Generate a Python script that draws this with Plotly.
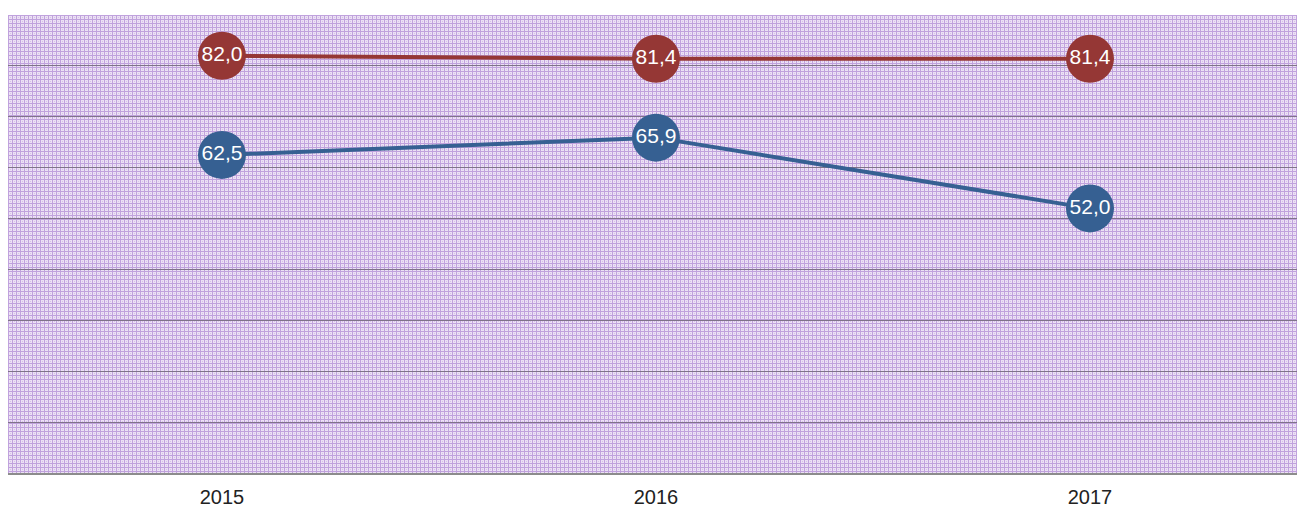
import base64
import plotly.graph_objects as go

years = ["2015", "2016", "2017"]
red_values = [82.0, 81.4, 81.4]
blue_values = [62.5, 65.9, 52.0]

red = "#953735"
blue = "#366092"


def label(v):
    return f"{v:.1f}".replace(".", ",")


# fine lavender check pattern behind the plot, as an svg image
svg = (
    '<svg xmlns="http://www.w3.org/2000/svg" width="1289" height="458" '
    'preserveAspectRatio="none">'
    '<defs><pattern id="p" width="4" height="4" patternUnits="userSpaceOnUse">'
    '<rect width="4" height="4" fill="#ece1f4"/>'
    '<rect x="0" y="0" width="4" height="1" fill="#c0a2dd"/>'
    '<rect x="0" y="0" width="1" height="4" fill="#c0a2dd"/>'
    '<rect x="2" y="2" width="1" height="1" fill="#d6c1ea"/>'
    '</pattern></defs>'
    '<rect width="1289" height="458" fill="url(#p)"/></svg>'
)
bg_src = "data:image/svg+xml;base64," + base64.b64encode(svg.encode()).decode()

fig = go.Figure()

for vals, col in [(blue_values, blue), (red_values, red)]:
    fig.add_trace(go.Scatter(
        x=years,
        y=vals,
        mode="lines+markers+text",
        line=dict(color=col, width=4),
        marker=dict(size=48, color=col, line=dict(width=0)),
        text=[label(v) for v in vals],
        textposition="middle center",
        textfont=dict(family="Liberation Sans, Arial", size=21, color="white"),
        cliponaxis=False,
        showlegend=False,
    ))

fig.update_layout(
    width=1297,
    height=510,
    margin=dict(l=8, r=0, t=15, b=37),
    paper_bgcolor="white",
    plot_bgcolor="#ddd0ea",
    font=dict(family="Liberation Sans, Arial", size=20, color="#222222"),
    images=[dict(
        source=bg_src,
        xref="paper", yref="paper",
        x=0, y=1, sizex=1, sizey=1,
        xanchor="left", yanchor="top",
        sizing="stretch",
        layer="below",
    )],
)

fig.update_xaxes(
    type="category",
    range=[-0.493, 2.477],
    showgrid=False,
    showline=True,
    linecolor="#8c8c8c",
    linewidth=2,
    ticks="",
    ticklabelstandoff=5,
    tickfont=dict(size=20, color="#222222"),
)
fig.update_yaxes(
    range=[0, 90],
    dtick=10,
    showgrid=True,
    gridcolor="#7f7389",
    gridwidth=1,
    zeroline=False,
    showticklabels=False,
    ticks="",
)

# drop the default body margin so the figure fills the window exactly
fig.write_html(
    "out.html",
    config={"displayModeBar": False},
    post_script="document.body.style.margin='0';document.body.style.overflow='hidden';",
)
